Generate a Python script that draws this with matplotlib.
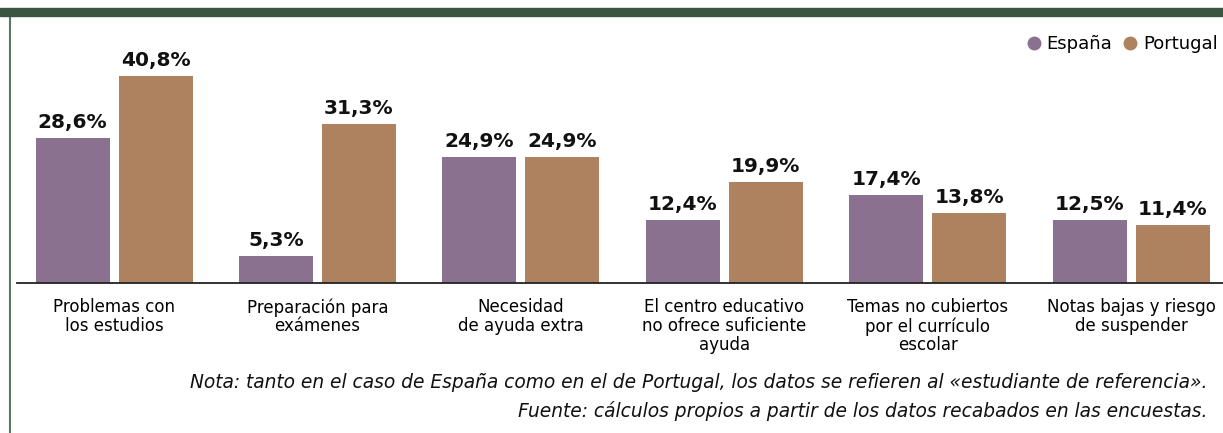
import matplotlib
matplotlib.use("Agg")
import matplotlib.pyplot as plt
import numpy as np

plt.rcParams['font.family'] = ['DejaVu Sans']

categorias = ['Problemas con\nlos estudios', 'Preparación para\nexámenes',
              'Necesidad\nde ayuda extra', 'El centro educativo\nno ofrece suficiente\nayuda',
              'Temas no cubiertos\npor el currículo\nescolar', 'Notas bajas y riesgo\nde suspender']
espana = [28.6, 5.3, 24.9, 12.4, 17.4, 12.5]
portugal = [40.8, 31.3, 24.9, 19.9, 13.8, 11.4]

col_es = '#8b7190'
col_pt = '#ae825f'
verde = '#3a5640'

fig = plt.figure(figsize=(12.23, 4.33), dpi=100)
ax = fig.add_axes([17/1223, 150/433, 1206/1223, 267/433])

x = np.arange(len(categorias))
w = 0.364
off = 0.204
b1 = ax.bar(x - off, espana, w, color=col_es)
b2 = ax.bar(x + off, portugal, w, color=col_pt)

for bars, vals in ((b1, espana), (b2, portugal)):
    for b, v in zip(bars, vals):
        ax.text(b.get_x() + b.get_width() / 2, v + 1.2, ('%.1f%%' % v).replace('.', ','),
                ha='center', va='bottom', fontsize=14.5, fontweight='bold', color='#111111')

ax.set_xlim(-0.477, 5.452)
ax.set_ylim(0, 52.7)
ax.set_xticks(x)
ax.set_xticklabels(categorias, fontsize=12, linespacing=1.05)
ax.tick_params(axis='x', length=0, pad=11)
ax.set_yticks([])
for s in ['top', 'right', 'left']:
    ax.spines[s].set_visible(False)
ax.spines['bottom'].set_color('#222222')
ax.spines['bottom'].set_linewidth(1.3)

# leyenda
ax.plot([], [], 'o', color=col_es, label='España', markersize=9)
ax.plot([], [], 'o', color=col_pt, label='Portugal', markersize=9)
ax.legend(loc='upper right', bbox_to_anchor=(1.006, 0.975), ncol=2, frameon=False, fontsize=13,
          handletextpad=0.1, columnspacing=0.4, handlelength=1.2, borderaxespad=0.3)

# marco
fig.patches.append(plt.Rectangle((0, 417/433), 1, 8/433, transform=fig.transFigure,
                                 color=verde, zorder=5))
fig.add_artist(plt.Line2D([9.5/1223, 9.5/1223], [0, 417/433], transform=fig.transFigure,
                          color='#5a7560', linewidth=1.5))

fig.text(1207/1223, 1 - 383/433, 'Nota: tanto en el caso de España como en el de Portugal, los datos se refieren al «estudiante de referencia».',
         ha='right', va='center', fontsize=13.4, style='italic', color='#111111')
fig.text(1207/1223, 1 - 411/433, 'Fuente: cálculos propios a partir de los datos recabados en las encuestas.',
         ha='right', va='center', fontsize=13.4, style='italic', color='#111111')

fig.savefig('out.png', dpi=100)
